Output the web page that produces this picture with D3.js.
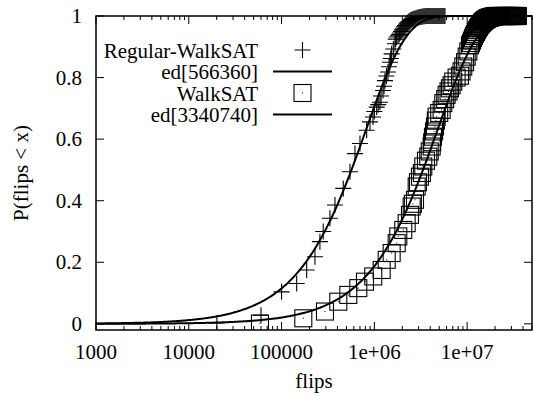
<!DOCTYPE html>
<html><head><meta charset="utf-8">
<script src="https://cdn.jsdelivr.net/npm/d3@7"></script>
<style>
html,body{margin:0;padding:0;background:#fff;}
svg{display:block;}
svg text{font-family:"Liberation Serif","DejaVu Serif",serif;}
</style></head>
<body>
<svg id="c" width="533" height="396"></svg>
<script>
// ---------- data ----------
const seriesNames = ["Regular-WalkSAT", "ed[566360]", "WalkSAT", "ed[3340740]"];
const fitMedians = [566360, 3340740];

const xTickValues = [1000, 10000, 100000, 1000000, 10000000];
const xTickLabels = ["1000", "10000", "100000", "1e+06", "1e+07"];
const yTickValues = [0, 0.2, 0.4, 0.6, 0.8, 1];
const yTickLabels = ["0", "0.2", "0.4", "0.6", "0.8", "1"];

// Regular-WalkSAT run lengths (flips) and cumulative probability
const regFlips = [20100, 60000, 100000, 145500, 186400, 229000, 259000, 281000, 332000, 376000,
  462000, 546000, 618000, 700000, 826000, 897000, 966000, 1000000, 1059000, 1100000,
  1149000, 1180000, 1238000, 1270000, 1301000, 1350000, 1402000, 1440000, 1473000, 1500000,
  1536000, 1600000, 1667000, 1700000, 1740000, 1800000, 1850000,
  1888000, 1935000, 1984000, 2034000, 2085000, 2137000, 2191000, 2246000, 2302000, 2360000,
  2419000, 2480000, 2542000, 2606000, 2672000, 2739000, 2808000, 2878000, 2950000, 3024000,
  3100000, 3178000, 3258000, 3340000, 3424000, 3510000, 3598000, 3688000, 3781000, 3876000,
  3973000, 4073000, 4175000, 4280000, 4388000, 4498000, 4611000, 4727000, 4846000, 4968000,
  5093000, 5221000, 5352000, 5486000, 5624000, 5765000];
const regP = [0.003, 0.028, 0.104, 0.131, 0.175, 0.218, 0.267, 0.300, 0.343, 0.386,
  0.440, 0.494, 0.553, 0.586, 0.629, 0.656, 0.672, 0.690, 0.704, 0.712,
  0.720, 0.740, 0.758, 0.772, 0.790, 0.805, 0.818, 0.835, 0.850, 0.862,
  0.877, 0.893, 0.910, 0.925, 0.932, 0.936, 0.940,
  0.945, 0.950, 0.955, 0.960, 0.965, 0.969, 0.973, 0.977, 0.980, 0.983,
  0.985, 0.987, 0.989, 0.990, 0.991, 0.992, 0.993, 0.994, 0.995, 0.996,
  0.997, 0.997, 0.998, 0.998, 0.999, 0.999, 1.000, 1.000, 1.000, 1.000,
  1.000, 1.000, 1.000, 1.000, 1.000, 1.000, 1.000, 1.000, 1.000, 1.000,
  1.000, 1.000, 1.000, 1.000, 1.000, 1.000];

// WalkSAT run lengths (flips) and cumulative probability
const wsFlips = [58500, 171500, 293600, 408800, 523700, 671000, 792500, 973000, 1199000, 1358000,
  1536000, 1740000, 1811000, 2048000, 2229000, 2420000, 2524000, 2600000, 2741000, 2858000,
  2950000, 3100000, 3250000, 3367000, 3600000, 3810000, 3950000, 4146000, 4200000, 4281000,
  4400000, 4500000, 4600000, 4693000, 5000000, 5311000, 5530000, 5800000, 6012000, 6300000,
  6527000, 6800000, 7086000, 7700000, 8360000, 8700000, 9080000, 9500000, 9880000, 10300000,
  10720000, 10990000, 11260000, 11550000, 11840000, 12130000, 12440000, 12750000, 13070000, 13400000,
  13740000, 14080000, 14430000, 14800000, 15170000, 15550000, 15940000, 16340000, 16750000, 17170000,
  17600000, 18040000, 18500000, 18960000, 19440000, 19930000, 20430000, 20940000, 21470000, 22010000,
  22560000, 23120000, 23700000, 24300000, 24910000, 25540000, 26180000, 26830000, 27510000, 28200000,
  28910000, 29630000, 30380000, 31140000, 31920000, 32720000, 33550000, 34390000, 35250000];
const wsP = [0.001, 0.018, 0.040, 0.072, 0.094, 0.116, 0.137, 0.154, 0.175, 0.208,
  0.230, 0.262, 0.284, 0.305, 0.327, 0.354, 0.381, 0.390, 0.403, 0.446,
  0.460, 0.478, 0.490, 0.511, 0.530, 0.543, 0.560, 0.576, 0.590, 0.608,
  0.625, 0.641, 0.660, 0.673, 0.685, 0.695, 0.717, 0.730, 0.744, 0.755,
  0.765, 0.775, 0.787, 0.800, 0.806, 0.820, 0.836, 0.850, 0.868, 0.885,
  0.905, 0.912, 0.920, 0.928, 0.935, 0.942, 0.948, 0.954, 0.960, 0.965,
  0.970, 0.974, 0.978, 0.981, 0.984, 0.987, 0.989, 0.991, 0.993, 0.994,
  0.995, 0.996, 0.997, 0.998, 0.998, 0.999, 1.000, 1.000, 1.000, 1.000,
  1.000, 1.000, 1.000, 1.000, 1.000, 1.000, 1.000, 1.000, 1.000, 1.000,
  1.000, 1.000, 1.000, 1.000, 1.000, 1.000, 1.000, 1.000, 1.000];

// ---------- chart ----------
const svg = d3.select("#c");
const L = 96, R = 532, T = 16, B = 330;
const x = d3.scaleLog().domain([1000, 5e7]).range([L, R]);
const y = d3.scaleLinear().domain([-0.02, 1]).range([B, T]);
const FONT = "'Liberation Serif','DejaVu Serif',serif";

svg.append("defs").append("clipPath").attr("id", "clip")
  .append("rect").attr("x", L).attr("y", T - 12).attr("width", R - L).attr("height", B - T + 12);

// ticks (major + minor), mirrored
const minor = [];
for (let d = 1000; d < 5e7; d *= 10) for (let k = 2; k <= 9; k++) if (d * k <= 5e7) minor.push(d * k);
const tk = svg.append("g").attr("stroke", "#000").attr("stroke-width", 1);
xTickValues.forEach(v => {
  tk.append("line").attr("x1", x(v)).attr("x2", x(v)).attr("y1", B).attr("y2", B - 8);
  tk.append("line").attr("x1", x(v)).attr("x2", x(v)).attr("y1", T).attr("y2", T + 8);
});
minor.forEach(v => {
  tk.append("line").attr("x1", x(v)).attr("x2", x(v)).attr("y1", B).attr("y2", B - 4);
  tk.append("line").attr("x1", x(v)).attr("x2", x(v)).attr("y1", T).attr("y2", T + 4);
});
yTickValues.forEach(v => {
  tk.append("line").attr("x1", L).attr("x2", L + 8).attr("y1", y(v)).attr("y2", y(v));
  tk.append("line").attr("x1", R).attr("x2", R - 8).attr("y1", y(v)).attr("y2", y(v));
});

// tick labels
const fs = 21;
svg.append("g").selectAll("text").data(xTickValues).join("text")
  .attr("x", d => x(d)).attr("y", 359).attr("text-anchor", "middle")
  .attr("font-family", FONT).attr("font-size", fs).text((d, i) => xTickLabels[i]);
svg.append("g").selectAll("text").data(yTickValues).join("text")
  .attr("x", 82).attr("y", d => y(d) + 7).attr("text-anchor", "end")
  .attr("font-family", FONT).attr("font-size", fs).text((d, i) => yTickLabels[i]);

// axis titles
svg.append("text").attr("x", 314).attr("y", 388).attr("text-anchor", "middle")
  .attr("font-family", FONT).attr("font-size", fs).text("flips");
svg.append("text").attr("transform", "translate(28,173) rotate(-90)")
  .attr("text-anchor", "middle").attr("font-family", FONT).attr("font-size", fs).text("P(flips < x)");

// plot content
const plot = svg.append("g").attr("clip-path", "url(#clip)");

// fitted exponential distributions (median parameterisation)
const grid = d3.range(0, 400).map(i => Math.pow(10, 3 + i * (Math.log10(5e7) - 3) / 399));
const lineGen = d3.line().x(d => x(d[0])).y(d => y(d[1]));
fitMedians.forEach(m => {
  plot.append("path")
    .datum(grid.map(f => [f, 1 - Math.pow(2, -f / m)]))
    .attr("fill", "none").attr("stroke", "#000").attr("stroke-width", 2)
    .attr("d", lineGen);
});

// markers
const ph = 8;
function plus(g, cx, cy) {
  g.append("path").attr("d", `M${cx - ph},${cy}H${cx + ph}M${cx},${cy - ph}V${cy + ph}`)
    .attr("stroke", "#000").attr("stroke-width", 1.1).attr("fill", "none");
}
const sh = 8.5;
function box(g, cx, cy) {
  g.append("rect").attr("x", cx - sh).attr("y", cy - sh).attr("width", 2 * sh).attr("height", 2 * sh)
    .attr("fill", "none").attr("stroke", "#000").attr("stroke-width", 1.1);
  g.append("rect").attr("x", cx - 0.5).attr("y", cy - 0.5).attr("width", 1).attr("height", 1).attr("fill", "#000");
}
const gReg = plot.append("g");
regFlips.forEach((f, i) => plus(gReg, x(f), y(regP[i])));
const gWs = plot.append("g");
wsFlips.forEach((f, i) => box(gWs, x(f), y(wsP[i])));

// border
svg.append("rect").attr("x", L).attr("y", T).attr("width", R - L).attr("height", B - T)
  .attr("fill", "none").attr("stroke", "#000").attr("stroke-width", 1.5);

// legend
const lg = svg.append("g");
const rows = [50, 71.5, 93, 114.5];
rows.forEach((ry, i) => {
  lg.append("text").attr("x", 258).attr("y", ry + 7.5).attr("text-anchor", "end")
    .attr("font-family", FONT).attr("font-size", fs).text(seriesNames[i]);
});
plus(lg, 302.5, rows[0]);
lg.append("line").attr("x1", 273).attr("x2", 332).attr("y1", rows[1]).attr("y2", rows[1])
  .attr("stroke", "#000").attr("stroke-width", 2);
box(lg, 302.5, rows[2]);
lg.append("line").attr("x1", 273).attr("x2", 332).attr("y1", rows[3]).attr("y2", rows[3])
  .attr("stroke", "#000").attr("stroke-width", 2);
</script>
</body></html>
